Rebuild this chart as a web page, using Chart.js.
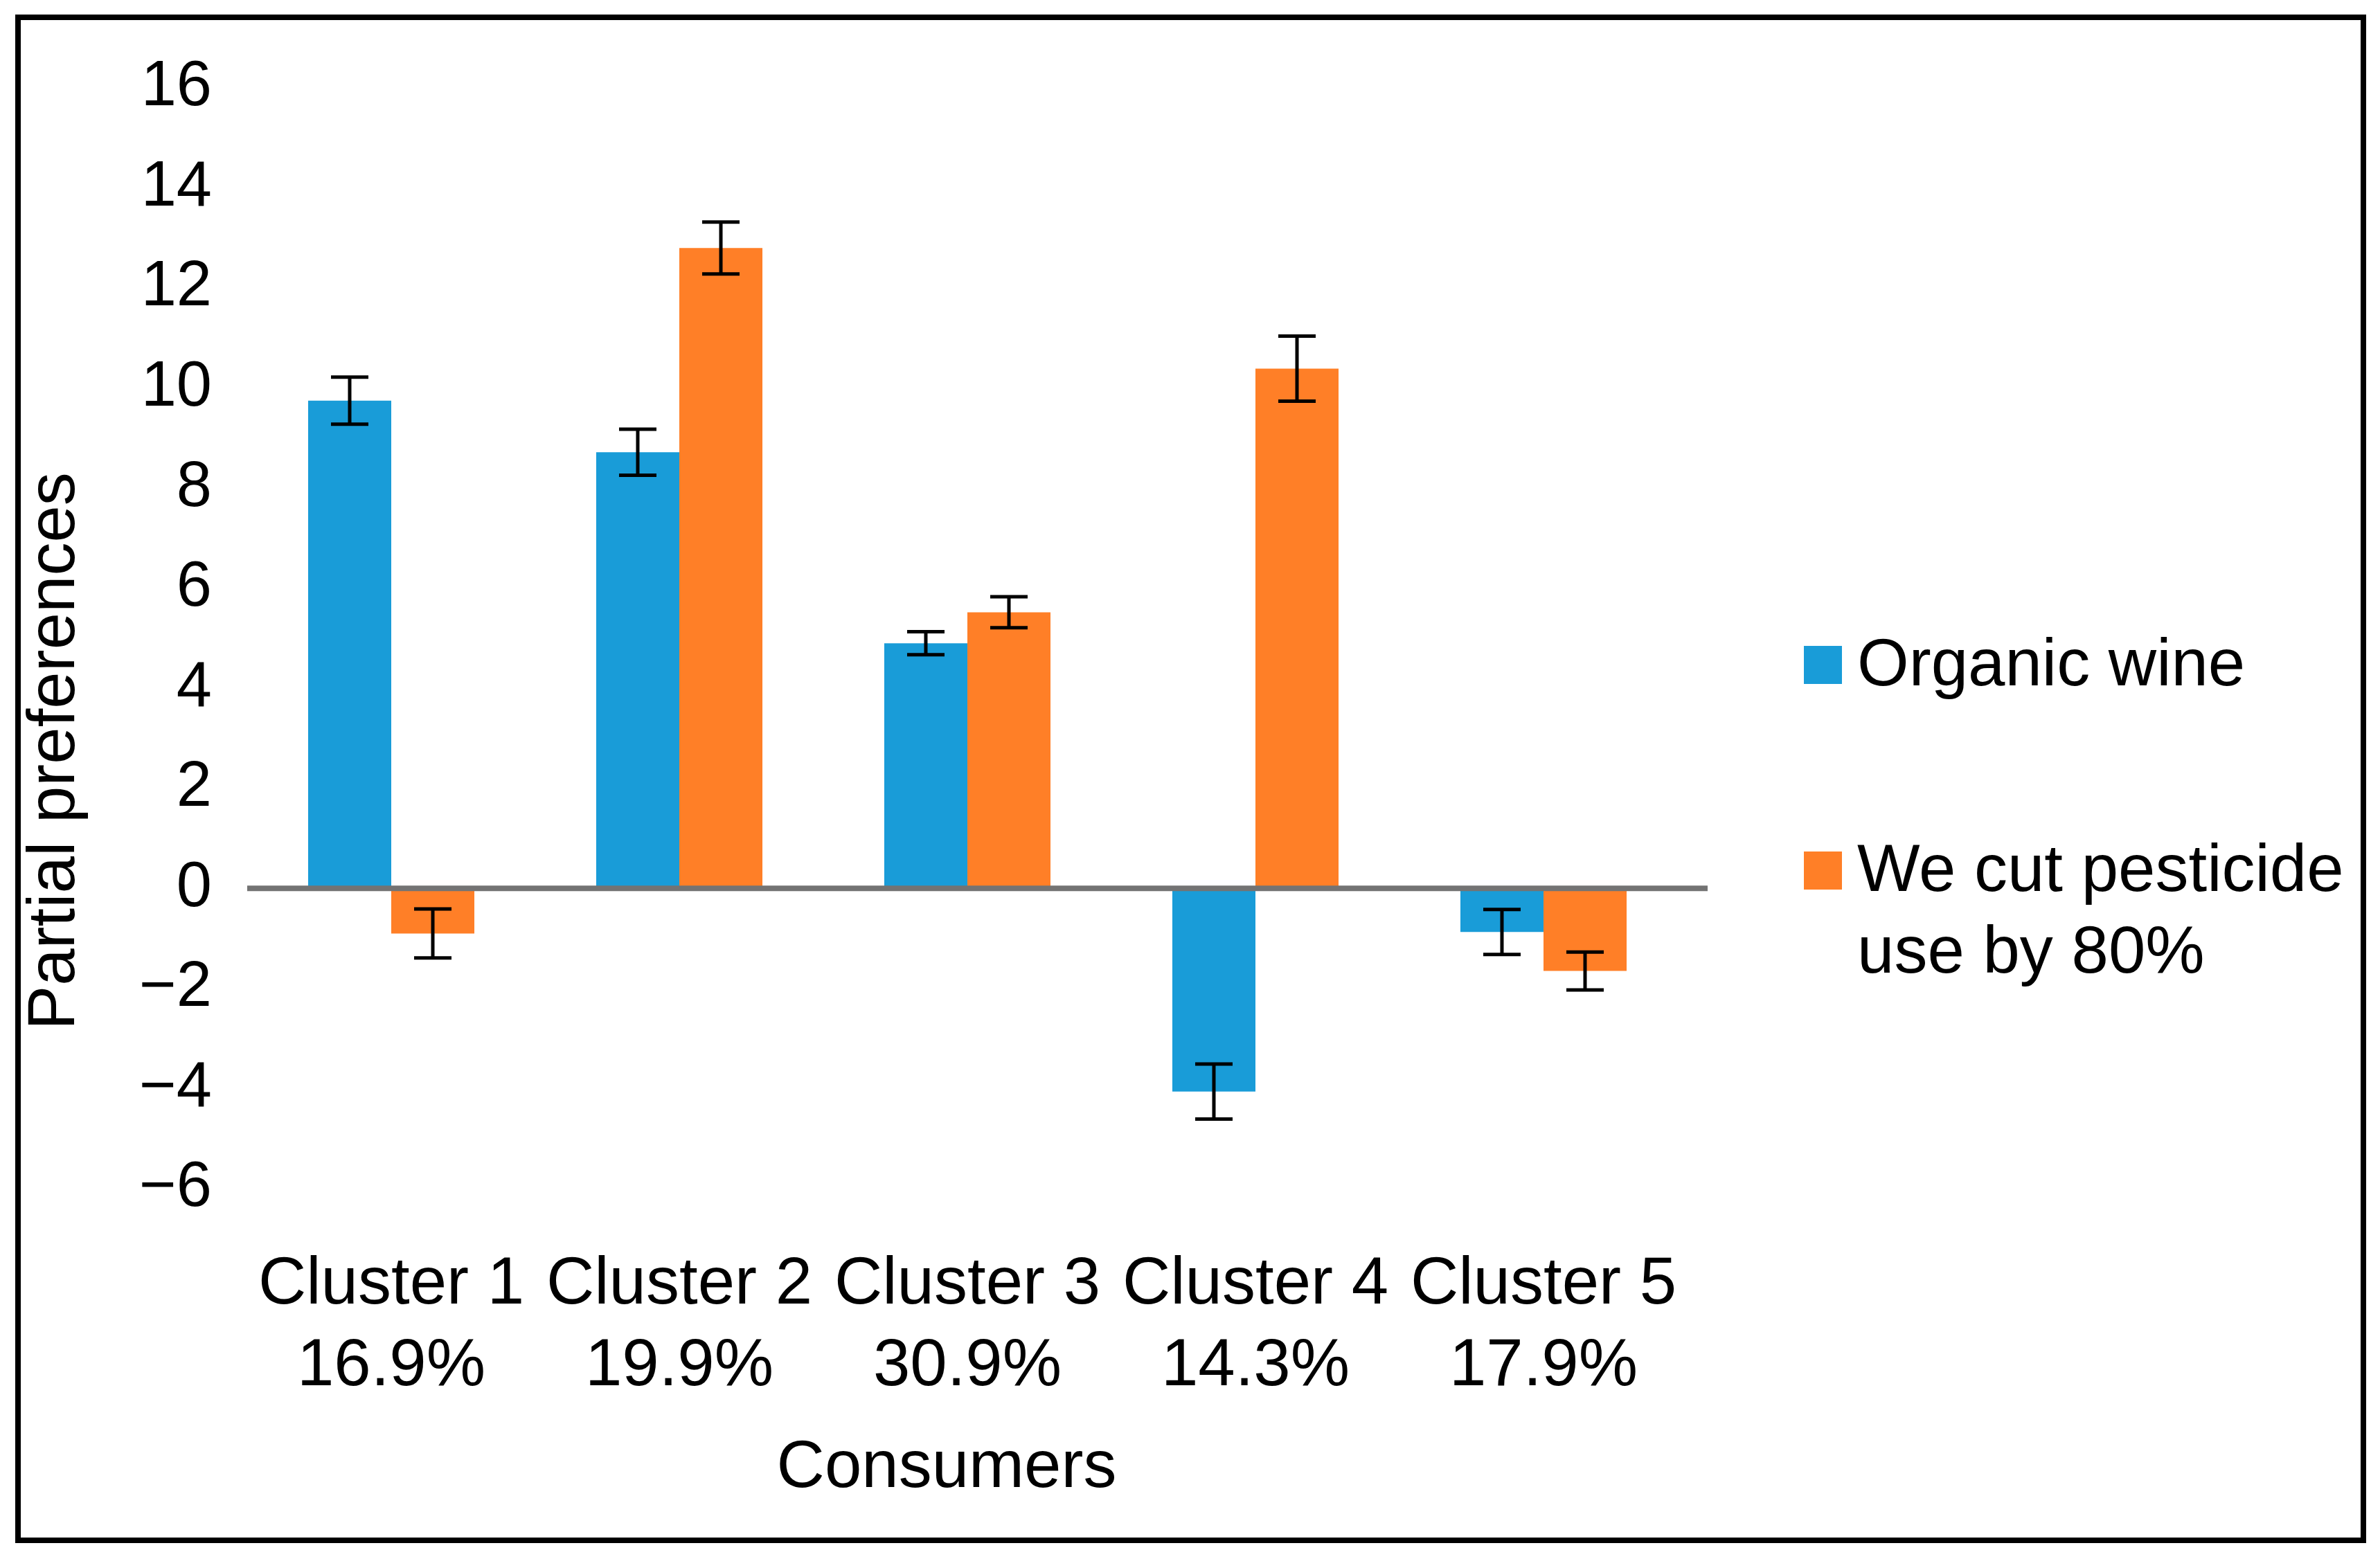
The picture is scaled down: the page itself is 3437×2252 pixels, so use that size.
<!DOCTYPE html>
<html>
<head>
<meta charset="utf-8">
<script src="https://cdn.jsdelivr.net/npm/chart.js@4"></script>
<style>
  html, body { margin: 0; padding: 0; background: #fff; }
  #wrap { width: 3437px; height: 2252px; position: relative; }
</style>
</head>
<body>
<div id="wrap"><canvas id="chart"></canvas></div>
<script>
// data
let clusters = [["Cluster 1", "16.9%"], ["Cluster 2", "19.9%"], ["Cluster 3", "30.9%"], ["Cluster 4", "14.3%"], ["Cluster 5", "17.9%"]];
let organic = [9.75, 8.72, 4.9, -4.06, -0.87];
let organicErr = [0.47, 0.46, 0.23, 0.55, 0.45];
let pesticide = [-0.9, 12.8, 5.52, 10.39, -1.65];
let pesticideErr = [0.49, 0.52, 0.31, 0.65, 0.38];
let seriesNames = ["Organic wine", "We cut pesticide use by 80%"];
let legendLines = [["Organic wine"], ["We cut pesticide", "use by 80%"]];
let yMin = -6, yMax = 16, yStep = 2;

let blue = "#199CD8";
let orange = "#FF7F27";
let font = "'Liberation Sans', Arial, sans-serif";

// zero line, error bars, frame, titles and legend
let extras = {
  id: "extras",
  beforeDraw(chart) {
    let ctx = chart.ctx;
    ctx.save();
    ctx.fillStyle = "#fff";
    ctx.fillRect(0, 0, chart.width, chart.height);
    ctx.restore();
  },
  afterDatasetsDraw(chart) {
    let ctx = chart.ctx;
    let y = chart.scales.y;
    let area = chart.chartArea;
    ctx.save();

    // zero line, runs a little past the last category like the original
    let y0 = y.getPixelForValue(0);
    ctx.strokeStyle = "#737373";
    ctx.lineWidth = 8;
    ctx.beginPath();
    ctx.moveTo(area.left, y0);
    ctx.lineTo(area.right + 29, y0);
    ctx.stroke();

    let errs = [organicErr, pesticideErr];
    ctx.strokeStyle = "#000";
    ctx.lineWidth = 5;
    chart.data.datasets.forEach(function (ds, i) {
      let meta = chart.getDatasetMeta(i);
      meta.data.forEach(function (bar, j) {
        let v = ds.data[j];
        let top = y.getPixelForValue(v + errs[i][j]);
        let bot = y.getPixelForValue(v - errs[i][j]);
        let half = 27;
        ctx.beginPath();
        ctx.moveTo(bar.x, top); ctx.lineTo(bar.x, bot);
        ctx.moveTo(bar.x - half, top); ctx.lineTo(bar.x + half, top);
        ctx.moveTo(bar.x - half, bot); ctx.lineTo(bar.x + half, bot);
        ctx.stroke();
      });
    });
    ctx.restore();
  },
  afterDraw(chart) {
    let ctx = chart.ctx;
    ctx.save();
    // outer frame
    ctx.strokeStyle = "#000";
    ctx.lineWidth = 8;
    ctx.strokeRect(26, 25, 3387, 2200);

    ctx.fillStyle = "#000";
    ctx.font = "96px " + font;
    ctx.textBaseline = "middle";

    // axis titles
    ctx.textAlign = "center";
    ctx.fillText("Consumers", 1367, 2122);
    ctx.save();
    ctx.translate(81, 1085);
    ctx.rotate(-Math.PI / 2);
    ctx.fillText("Partial preferences", 0, 0);
    ctx.restore();

    // legend
    let colors = [blue, orange];
    let itemY = [960, 1257];
    ctx.textAlign = "left";
    legendLines.forEach(function (lines, i) {
      ctx.fillStyle = colors[i];
      ctx.fillRect(2605, itemY[i] - 27, 55, 55);
      ctx.fillStyle = "#000";
      lines.forEach(function (t, k) {
        ctx.fillText(t, 2682, itemY[i] + 4 + k * 118);
      });
    });
    ctx.restore();
  }
};

new Chart(document.getElementById("chart"), {
  type: "bar",
  data: {
    labels: clusters,
    datasets: [
      { label: seriesNames[0], data: organic, backgroundColor: blue },
      { label: seriesNames[1], data: pesticide, backgroundColor: orange }
    ]
  },
  options: {
    responsive: true,
    maintainAspectRatio: false,
    devicePixelRatio: 1,
    animation: false,
    layout: { padding: { top: 127, right: 1000, left: 0, bottom: 0 } },
    datasets: { bar: { categoryPercentage: 0.577, barPercentage: 1.0 } },
    plugins: { legend: { display: false }, tooltip: { enabled: false }, title: { display: false } },
    scales: {
      x: {
        grid: { display: false, drawTicks: false },
        border: { display: false },
        ticks: {
          color: "#000",
          padding: 80,
          autoSkip: false,
          maxRotation: 0,
          font: { family: font, size: 96, lineHeight: 1.23 }
        },
        afterFit(scale) { scale.height = 535; }
      },
      y: {
        min: yMin,
        max: yMax,
        border: { display: false },
        grid: { display: false, drawTicks: false },
        ticks: {
          stepSize: yStep,
          color: "#000",
          padding: 51,
          font: { family: font, size: 92 },
          callback: function (v) { return v < 0 ? "\u2212" + Math.abs(v) : String(v); }
        },
        afterFit(scale) { scale.width = 357; }
      }
    }
  },
  plugins: [extras]
});
</script>
</body>
</html>
